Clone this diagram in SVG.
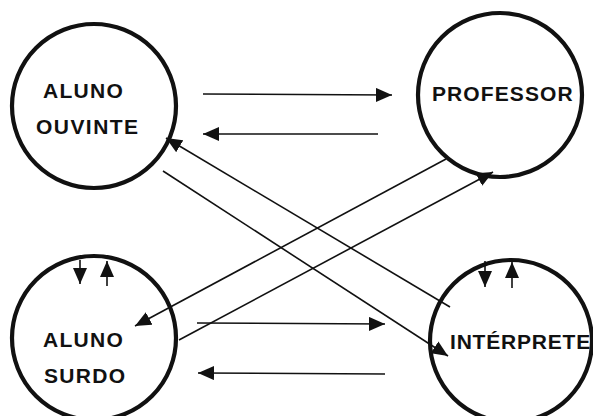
<svg xmlns="http://www.w3.org/2000/svg" width="593" height="416" viewBox="0 0 593 416">
<style>
.node{fill:#fff;stroke:#111;stroke-width:4.2}
.lbl{font-family:"Liberation Sans",Arial,sans-serif;font-weight:bold;font-size:21px;fill:#111}
.con{stroke:#111;stroke-width:1.6;fill:none;marker-end:url(#ah)}
</style>
<defs>
<marker id="ah" markerUnits="userSpaceOnUse" markerWidth="17" markerHeight="14" refX="16" refY="7" orient="auto">
<path d="M0,0 L16,7 L0,14 z" fill="#111"/>
</marker>
</defs>
<rect width="593" height="416" fill="#fff"/>
<g id="aluno-ouvinte">
<circle class="node" cx="94" cy="106" r="82"/>
<text class="lbl" x="43" y="98" letter-spacing="1.3">ALUNO</text>
<text class="lbl" x="36" y="134" letter-spacing="1.45">OUVINTE</text>
</g>
<g id="professor">
<circle class="node" cx="500" cy="95" r="82"/>
<text class="lbl" x="432" y="101" letter-spacing="1.1">PROFESSOR</text>
</g>
<g id="aluno-surdo">
<circle class="node" cx="94" cy="338" r="82"/>
<text class="lbl" x="43" y="347" letter-spacing="1.3">ALUNO</text>
<text class="lbl" x="44" y="383" letter-spacing="1.3">SURDO</text>
</g>
<g id="interprete">
<circle class="node" cx="511" cy="341" r="81"/>
<text class="lbl" x="450" y="349" letter-spacing="0.8">INTÉRPRETE</text>
</g>
<g id="connectors">
<line class="con" x1="203" y1="94" x2="392" y2="95"/>
<line class="con" x1="378" y1="134" x2="203" y2="134"/>
<line class="con" x1="197" y1="323" x2="385" y2="324"/>
<line class="con" x1="385" y1="374" x2="198" y2="373"/>
<line class="con" x1="450" y1="307" x2="166" y2="138"/>
<line class="con" x1="163" y1="171" x2="448" y2="356"/>
<line class="con" x1="446" y1="159" x2="135" y2="326"/>
<line class="con" x1="179" y1="340" x2="493" y2="172"/>
<line class="con" x1="80" y1="260" x2="80" y2="284"/>
<line class="con" x1="107" y1="286" x2="107" y2="261"/>
<line class="con" x1="485" y1="261" x2="485" y2="287"/>
<line class="con" x1="512" y1="288" x2="512" y2="262"/>
</g>
</svg>
